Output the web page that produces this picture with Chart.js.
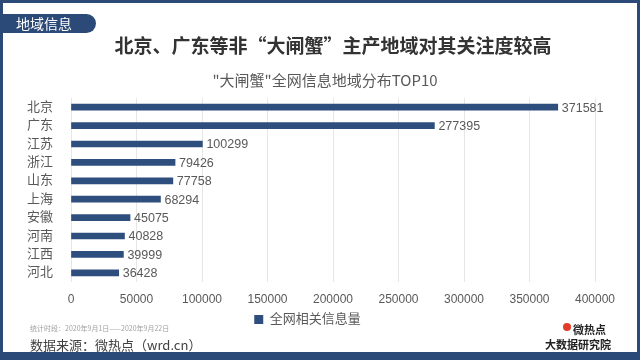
<!DOCTYPE html>
<html>
<head>
<meta charset="utf-8">
<script src="https://cdn.jsdelivr.net/npm/chart.js@4"></script>
<style>
  html, body { margin: 0; padding: 0; background: #fff; }
  #wrap {
    position: relative; width: 640px; height: 360px; box-sizing: border-box;
    border-style: solid; border-color: #2c4a78;
    border-width: 3px 3px 8px 3px; overflow: hidden;
    font-family: "Noto Sans CJK SC", "Liberation Sans", sans-serif;
  }
  #myChart { position: absolute; left: -3px; top: -3px; }
  .abs { position: absolute; white-space: nowrap; }
  #tag {
    left: -3px; top: 11px; width: 96px; height: 19px; background: #2c4a78;
    border-radius: 0 10px 10px 0; color: #fff; font-size: 14px; line-height: 19px;
    padding-left: 16px; box-sizing: border-box;
  }
  #title { left: 0; width: 660px; text-align: center; top: 28px; font-size: 19px; font-weight: bold; color: #333; }
  #sub { left: 0; width: 644px; text-align: center; top: 66px; font-size: 15px; color: #595959; }
  #period { left: 27px; top: 320px; font-size: 7px; color: #a0a0a0; }
  #source { left: 27px; top: 332px; font-size: 13px; color: #404040; }
  #logo1 { left: 570px; top: 318px; font-size: 11px; font-weight: bold; color: #222; }
  #logo2 { left: 542px; top: 333px; font-size: 11px; font-weight: bold; color: #222; }
  #dot { left: 560px; top: 320px; width: 8px; height: 8px; border-radius: 50%; background: #e23b2a; }
</style>
</head>
<body>
<div id="wrap">
  <canvas id="myChart" width="640" height="360"></canvas>
  <div class="abs" id="tag">地域信息</div>
  <div class="abs" id="title">北京、广东等非“大闸蟹”主产地域对其关注度较高</div>
  <div class="abs" id="sub">"大闸蟹"全网信息地域分布TOP10</div>
  <div class="abs" id="period">统计时段：2020年9月1日——2020年9月22日</div>
  <div class="abs" id="source">数据来源：微热点（wrd.cn）</div>
  <div class="abs" id="dot"></div>
  <div class="abs" id="logo1">微热点</div>
  <div class="abs" id="logo2">大数据研究院</div>
</div>
<script>
// data
const regions = ['北京', '广东', '江苏', '浙江', '山东', '上海', '安徽', '河南', '江西', '河北'];
const mentions = [371581, 277395, 100299, 79426, 77758, 68294, 45075, 40828, 39999, 36428];
const seriesName = '全网相关信息量';

const textFont = '"Liberation Sans", "Noto Sans CJK SC", sans-serif';

// draws the number at the end of each bar
const barLabels = {
  id: 'barLabels',
  afterDatasetsDraw(chart) {
    const ctx = chart.ctx;
    const meta = chart.getDatasetMeta(0);
    ctx.save();
    ctx.font = '12.5px ' + textFont;
    ctx.fillStyle = '#595959';
    ctx.textAlign = 'left';
    ctx.textBaseline = 'middle';
    meta.data.forEach((bar, i) => {
      ctx.fillText(String(chart.data.datasets[0].data[i]), bar.x + 4, bar.y + 1);
    });
    ctx.restore();
  }
};

const ctx = document.getElementById('myChart').getContext('2d');
new Chart(ctx, {
  type: 'bar',
  data: {
    labels: regions,
    datasets: [{
      label: seriesName,
      data: mentions,
      backgroundColor: '#2e4e7e',
      barThickness: 6
    }]
  },
  options: {
    indexAxis: 'y',
    responsive: false,
    animation: false,
    layout: { padding: { left: 20, right: 45, top: 98, bottom: 24 } },
    scales: {
      x: {
        min: 0, max: 400000,
        ticks: {
          stepSize: 50000, color: '#595959', padding: 10,
          font: { size: 12, family: textFont },
          callback: (v) => String(v)
        },
        grid: { color: '#e6e6e6', drawTicks: false },
        border: { display: false },
        afterFit(scale) { scale.height = 25; }
      },
      y: {
        ticks: { color: '#595959', padding: 10, autoSkip: false, font: { size: 13, family: textFont } },
        grid: { display: false },
        border: { display: false },
        afterFit(scale) { scale.width = 51; }
      }
    },
    plugins: {
      tooltip: { enabled: false },
      legend: {
        position: 'bottom',
        labels: {
          boxWidth: 9, boxHeight: 9, padding: 6, color: '#595959',
          font: { size: 13, family: textFont }
        }
      }
    }
  },
  plugins: [barLabels]
});
</script>
</body>
</html>
